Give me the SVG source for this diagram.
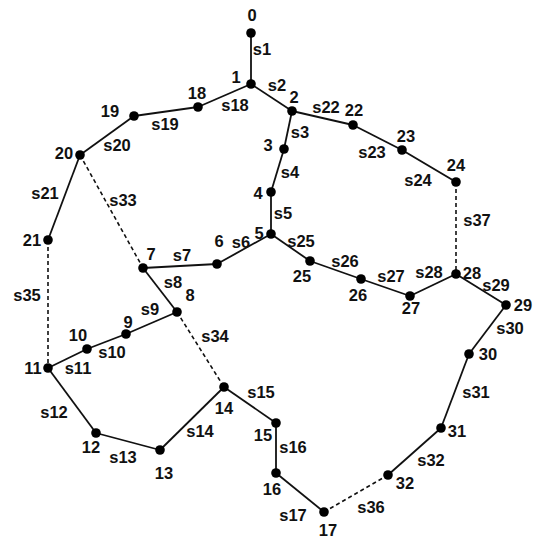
<svg xmlns="http://www.w3.org/2000/svg" width="540" height="538" viewBox="0 0 540 538">
<style>
.e{stroke:#111;stroke-width:1.8;fill:none}
.d{stroke:#111;stroke-width:1.6;fill:none;stroke-dasharray:4 3}
.n{fill:#000}
text{font-family:"Liberation Sans",Arial,sans-serif;font-size:16.5px;font-weight:bold;fill:#111;text-anchor:middle}
</style>
<rect width="540" height="538" fill="#fff"/>
<g id="connectors">
<line class="e" x1="251" y1="33" x2="251" y2="84"/>
<line class="e" x1="251" y1="84" x2="292" y2="111"/>
<line class="e" x1="292" y1="111" x2="284" y2="149"/>
<line class="e" x1="284" y1="149" x2="271" y2="192"/>
<line class="e" x1="271" y1="192" x2="271" y2="234"/>
<line class="e" x1="271" y1="234" x2="217" y2="264"/>
<line class="e" x1="217" y1="264" x2="143" y2="268"/>
<line class="e" x1="143" y1="268" x2="177" y2="312"/>
<line class="e" x1="177" y1="312" x2="126" y2="334"/>
<line class="e" x1="126" y1="334" x2="87" y2="349"/>
<line class="e" x1="87" y1="349" x2="48" y2="368"/>
<line class="e" x1="48" y1="368" x2="96" y2="433"/>
<line class="e" x1="96" y1="433" x2="160" y2="450"/>
<line class="e" x1="160" y1="450" x2="224" y2="387"/>
<line class="e" x1="224" y1="387" x2="276" y2="423"/>
<line class="e" x1="276" y1="423" x2="276" y2="473"/>
<line class="e" x1="276" y1="473" x2="324" y2="512"/>
<line class="e" x1="251" y1="84" x2="198" y2="107"/>
<line class="e" x1="198" y1="107" x2="134" y2="116"/>
<line class="e" x1="134" y1="116" x2="80" y2="155"/>
<line class="e" x1="80" y1="155" x2="48" y2="240"/>
<line class="e" x1="292" y1="111" x2="353" y2="125"/>
<line class="e" x1="353" y1="125" x2="402" y2="150"/>
<line class="e" x1="402" y1="150" x2="456" y2="182"/>
<line class="e" x1="271" y1="234" x2="310" y2="261"/>
<line class="e" x1="310" y1="261" x2="361" y2="279"/>
<line class="e" x1="361" y1="279" x2="410" y2="296"/>
<line class="e" x1="410" y1="296" x2="456" y2="274"/>
<line class="e" x1="456" y1="274" x2="506" y2="305"/>
<line class="e" x1="506" y1="305" x2="469" y2="354"/>
<line class="e" x1="469" y1="354" x2="441" y2="428"/>
<line class="e" x1="441" y1="428" x2="388" y2="475"/>
<line class="d" x1="80" y1="155" x2="143" y2="268"/>
<line class="d" x1="177" y1="312" x2="224" y2="387"/>
<line class="d" x1="48" y1="240" x2="48" y2="368"/>
<line class="d" x1="324" y1="512" x2="388" y2="475"/>
<line class="d" x1="456" y1="182" x2="456" y2="274"/>
</g>
<g id="edge-labels">
<text x="262" y="55">s1</text>
<text x="277" y="91">s2</text>
<text x="300" y="138">s3</text>
<text x="290" y="178">s4</text>
<text x="283" y="219">s5</text>
<text x="241" y="248">s6</text>
<text x="182" y="261">s7</text>
<text x="173" y="288">s8</text>
<text x="150" y="315">s9</text>
<text x="112" y="358">s10</text>
<text x="78" y="374">s11</text>
<text x="54" y="418">s12</text>
<text x="123" y="463">s13</text>
<text x="200" y="437">s14</text>
<text x="261" y="398">s15</text>
<text x="293" y="453">s16</text>
<text x="293" y="521">s17</text>
<text x="235" y="111">s18</text>
<text x="165" y="130">s19</text>
<text x="117" y="151">s20</text>
<text x="45" y="199">s21</text>
<text x="326" y="113">s22</text>
<text x="372" y="158">s23</text>
<text x="418" y="186">s24</text>
<text x="301" y="247">s25</text>
<text x="345" y="267">s26</text>
<text x="391" y="282">s27</text>
<text x="429" y="278">s28</text>
<text x="496" y="291">s29</text>
<text x="510" y="334">s30</text>
<text x="476" y="398">s31</text>
<text x="431" y="466">s32</text>
<text x="123" y="206">s33</text>
<text x="215" y="342">s34</text>
<text x="27" y="301">s35</text>
<text x="371" y="513">s36</text>
<text x="477" y="226">s37</text>
</g>
<g id="n0"><circle class="n" cx="251" cy="33" r="4.8"/><text x="252" y="21">0</text></g>
<g id="n1"><circle class="n" cx="251" cy="84" r="4.8"/><text x="236" y="83">1</text></g>
<g id="n2"><circle class="n" cx="292" cy="111" r="4.8"/><text x="294" y="103">2</text></g>
<g id="n3"><circle class="n" cx="284" cy="149" r="4.8"/><text x="268" y="151">3</text></g>
<g id="n4"><circle class="n" cx="271" cy="192" r="4.8"/><text x="258" y="199">4</text></g>
<g id="n5"><circle class="n" cx="271" cy="234" r="4.8"/><text x="259" y="239">5</text></g>
<g id="n6"><circle class="n" cx="217" cy="264" r="4.8"/><text x="219" y="247">6</text></g>
<g id="n7"><circle class="n" cx="143" cy="268" r="4.8"/><text x="151" y="260">7</text></g>
<g id="n8"><circle class="n" cx="177" cy="312" r="4.8"/><text x="190" y="301">8</text></g>
<g id="n9"><circle class="n" cx="126" cy="334" r="4.8"/><text x="128" y="328">9</text></g>
<g id="n10"><circle class="n" cx="87" cy="349" r="4.8"/><text x="78" y="341">10</text></g>
<g id="n11"><circle class="n" cx="48" cy="368" r="4.8"/><text x="33" y="374">11</text></g>
<g id="n12"><circle class="n" cx="96" cy="433" r="4.8"/><text x="91" y="453">12</text></g>
<g id="n13"><circle class="n" cx="160" cy="450" r="4.8"/><text x="164" y="479">13</text></g>
<g id="n14"><circle class="n" cx="224" cy="387" r="4.8"/><text x="224" y="414">14</text></g>
<g id="n15"><circle class="n" cx="276" cy="423" r="4.8"/><text x="263" y="441">15</text></g>
<g id="n16"><circle class="n" cx="276" cy="473" r="4.8"/><text x="272" y="495">16</text></g>
<g id="n17"><circle class="n" cx="324" cy="512" r="4.8"/><text x="328" y="536">17</text></g>
<g id="n18"><circle class="n" cx="198" cy="107" r="4.8"/><text x="197" y="99">18</text></g>
<g id="n19"><circle class="n" cx="134" cy="116" r="4.8"/><text x="110" y="117">19</text></g>
<g id="n20"><circle class="n" cx="80" cy="155" r="4.8"/><text x="64" y="159">20</text></g>
<g id="n21"><circle class="n" cx="48" cy="240" r="4.8"/><text x="32" y="246">21</text></g>
<g id="n22"><circle class="n" cx="353" cy="125" r="4.8"/><text x="354" y="116">22</text></g>
<g id="n23"><circle class="n" cx="402" cy="150" r="4.8"/><text x="406" y="142">23</text></g>
<g id="n24"><circle class="n" cx="456" cy="182" r="4.8"/><text x="456" y="171">24</text></g>
<g id="n25"><circle class="n" cx="310" cy="261" r="4.8"/><text x="302" y="282">25</text></g>
<g id="n26"><circle class="n" cx="361" cy="279" r="4.8"/><text x="358" y="301">26</text></g>
<g id="n27"><circle class="n" cx="410" cy="296" r="4.8"/><text x="411" y="314">27</text></g>
<g id="n28"><circle class="n" cx="456" cy="274" r="4.8"/><text x="472" y="279">28</text></g>
<g id="n29"><circle class="n" cx="506" cy="305" r="4.8"/><text x="523" y="311">29</text></g>
<g id="n30"><circle class="n" cx="469" cy="354" r="4.8"/><text x="488" y="360">30</text></g>
<g id="n31"><circle class="n" cx="441" cy="428" r="4.8"/><text x="457" y="437">31</text></g>
<g id="n32"><circle class="n" cx="388" cy="475" r="4.8"/><text x="405" y="489">32</text></g>
</svg>
